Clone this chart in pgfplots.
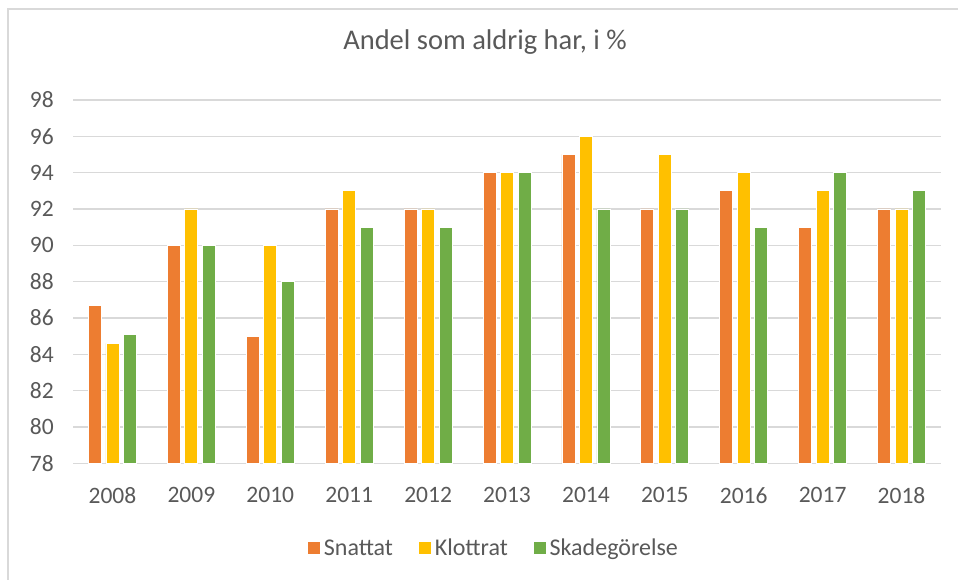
\documentclass[border=0pt]{standalone}
\usepackage{fontspec}
\setmainfont{Carlito}
\usepackage{pgfplots}
\pgfplotsset{compat=1.18}

\definecolor{snatt}{HTML}{ED7D31}
\definecolor{klott}{HTML}{FFC000}
\definecolor{skada}{HTML}{70AD47}
\definecolor{gridgray}{HTML}{D9D9D9}
\definecolor{txtgray}{HTML}{595959}

\begin{document}
\begin{tikzpicture}[x=1pt,y=1pt]
\useasboundingbox (0,0) rectangle (958,579);
\draw[gridgray, line width=2pt] (8,-5) -- (8,570) -- (965,570);
\begin{axis}[
  at={(73pt,115.7pt)}, anchor=south west,
  scale only axis, width=868pt, height=363.3pt,
  ybar=4.5pt, bar width=13pt,
  xmin=-0.5, xmax=10.5, ymin=78, ymax=98,
  xtick={0,1,2,3,4,5,6,7,8,9,10},
  xticklabels={2008,2009,2010,2011,2012,2013,2014,2015,2016,2017,2018},
  ytick={78,80,...,98},
  ymajorgrids, grid style={gridgray, line width=1.6pt},
  axis line style={draw=none}, major tick length=0pt,
  tick label style={font=\fontsize{23.5}{28}\selectfont, text=txtgray, inner sep=0pt},
  /pgf/number format/assume math mode=true,
  yticklabel shift=19pt, xticklabel shift=24pt,
  title={Andel som aldrig har, i \%},
  title style={font=\fontsize{28.5}{34}\selectfont, text=txtgray,
    at={(0.4747,1)}, anchor=center, yshift=52pt},
  legend columns=3,
  legend style={at={(0.485,0)}, anchor=center, yshift=-85pt, draw=none,
    font=\fontsize{24}{28}\selectfont, text=txtgray,
    nodes={inner xsep=3pt},
    /tikz/every even column/.append style={column sep=22pt}},
  legend image code/.code={\fill[#1] (0pt,-6.5pt) rectangle (13pt,6.5pt);},
]
\addplot[fill=snatt, draw=white, line width=0.8pt] coordinates {
  (0,86.7) (1,90) (2,85) (3,92) (4,92) (5,94) (6,95) (7,92) (8,93) (9,91) (10,92)};
\addplot[fill=klott, draw=white, line width=0.8pt] coordinates {
  (0,84.6) (1,92) (2,90) (3,93) (4,92) (5,94) (6,96) (7,95) (8,94) (9,93) (10,92)};
\addplot[fill=skada, draw=white, line width=0.8pt] coordinates {
  (0,85.1) (1,90) (2,88) (3,91) (4,91) (5,94) (6,92) (7,92) (8,91) (9,94) (10,93)};
\legend{Snattat, Klottrat, Skadegörelse}
\end{axis}
\end{tikzpicture}
\end{document}
